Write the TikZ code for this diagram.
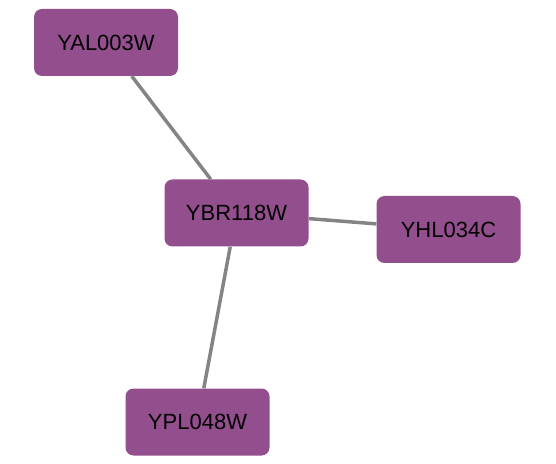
\documentclass[tikz,border=0pt]{standalone}
\usepackage{fontspec}
\setmainfont{Liberation Sans}
\usetikzlibrary{positioning}
\definecolor{genepurple}{HTML}{934F8D}
\definecolor{edgegray}{HTML}{848484}

\begin{document}
\begin{tikzpicture}[x=1pt,y=1pt,font=\fontsize{22}{26}\selectfont,
  gene/.style={fill=genepurple,rounded corners=8pt,minimum width=144pt,minimum height=67pt,inner sep=0pt},
  link/.style={draw=edgegray,line width=3.5pt}]
\useasboundingbox (0,0) rectangle (556,463);
\node[gene] (yal) at (106,420.5) {YAL003W};
\node[gene] (ybr) at (236.5,250) {YBR118W};
\node[gene] (yhl) at (448.5,233.5) {YHL034C};
\node[gene] (ypl) at (197.5,41) {YPL048W};
\draw[link] (yal)--(ybr);
\draw[link] (ybr)--(yhl);
\draw[link] (ybr)--(ypl);
\end{tikzpicture}
\end{document}
